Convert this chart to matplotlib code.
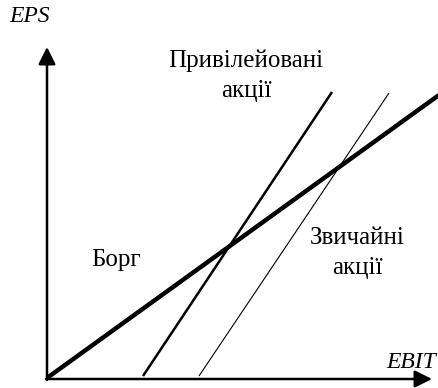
import matplotlib
matplotlib.use("Agg")
import matplotlib.pyplot as plt

# Data (arbitrary units: EBIT on x, EPS on y)
debt_x = [0.0, 39.2]
debt_y = [0.1, 28.4]
pref_x = [9.6, 28.5]
pref_y = [0.3, 28.7]
common_x = [15.2, 34.2]
common_y = [0.3, 28.6]
axis_x_max = 38.5
axis_y_max = 33.2

labels = {
    "pref": "Привілейовані\nакції",
    "common": "Звичайні\nакції",
    "debt": "Борг",
    "x": "EBIT",
    "y": "EPS",
}

fig = plt.figure(figsize=(4.39, 3.88), dpi=100)
ax = fig.add_axes([0, 0, 1, 1])
ax.set_xlim(-4.7, 39.2)
ax.set_ylim(-0.9, 37.9)
ax.axis("off")

# axes arrows
arrow = dict(arrowstyle="-|>", lw=1.8, color="black", mutation_scale=26,
             shrinkA=0, shrinkB=0)
ax.annotate("", xy=(axis_x_max, 0), xytext=(-0.1, 0), arrowprops=arrow)
ax.annotate("", xy=(0, axis_y_max), xytext=(0, -0.1), arrowprops=arrow)

ax.plot(debt_x, debt_y, color="black", lw=3.2, solid_capstyle="butt")
ax.plot(pref_x, pref_y, color="black", lw=1.8, solid_capstyle="butt")
ax.plot(common_x, common_y, color="black", lw=0.8, solid_capstyle="butt")

serif = ["Liberation Serif", "DejaVu Serif"]
fs = 18
ax.text(19.9, 30.3, labels["pref"], ha="center", va="center", fontsize=fs,
        family=serif, linespacing=1.45, multialignment="center")
ax.text(31.0, 12.6, labels["common"], ha="center", va="center", fontsize=fs,
        family=serif, linespacing=1.45, multialignment="center")
ax.text(6.9, 11.9, labels["debt"], ha="center", va="center", fontsize=fs,
        family=serif)
ax.text(38.9, 1.7, labels["x"], ha="right", va="center", fontsize=17,
        family=serif, style="italic")
ax.text(-1.7, 36.3, labels["y"], ha="center", va="center", fontsize=17,
        family=serif, style="italic")

fig.savefig("out.png", dpi=100)
